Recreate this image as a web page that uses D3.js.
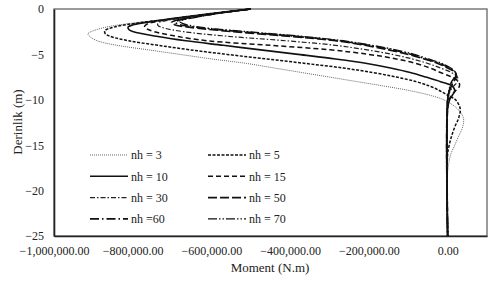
<!DOCTYPE html>
<html>

<head>
    <meta charset="UTF-8">
    <style>
        body { margin: 0; background: #fff; }
        svg { display: block; }
        text { font-family: "Liberation Serif", "Times New Roman", serif; fill: #222; }
    </style>
</head>

<body>
    <svg></svg>
    <script src="https://d3js.org/d3.v7.min.js"></script>

    <script>

        let width = 489, height = 282;

        // moment in thousands of N.m, depth in m
        const xTicks = [-1000000, -800000, -600000, -400000, -200000, 0];
        const yTicks = [0, -5, -10, -15, -20, -25];
        const labels = ["nh = 3", "nh = 5", "nh = 10", "nh = 15", "nh = 30", "nh = 50", "nh =60", "nh = 70"];

        const depth3 = [0, -0.5, -1, -1.5, -2, -2.5, -2.75, -3, -3.5, -4, -4.5, -5, -5.5, -6, -6.5, -7, -7.5, -8, -8.5, -9, -9.5, -10, -11, -12, -13, -14, -15, -16, -17, -18, -25];
        const moment3 = [-500, -590, -680, -790, -868, -906, -914, -910, -890, -840, -760, -680, -600, -510, -440, -370, -300, -230, -160, -95, -45, -10, 25, 40, 38, 28, 18, 8, 3, 0, 0];

        const depth5 = [0, -0.5, -1, -1.5, -2, -2.4, -2.7, -3, -3.5, -4, -4.5, -5, -5.5, -6, -6.5, -7, -7.5, -8, -8.5, -9, -9.5, -10, -11, -12, -13, -14, -15, -16, -25];
        const moment5 = [-500, -590, -680, -780, -848, -871, -870, -858, -810, -735, -654, -560, -460, -360, -265, -190, -130, -80, -45, -20, 0, 20, 32, 28, 18, 10, 4, 0, 0];

        const depth10 = [0, -0.5, -1, -1.5, -1.75, -2, -2.25, -2.5, -3, -3.5, -4, -4.5, -5, -5.5, -6, -6.5, -7, -7.5, -8, -8.5, -9, -9.5, -10, -11, -25];
        const moment10 = [-500, -600, -690, -770, -800, -812, -810, -798, -740, -665, -570, -475, -380, -285, -205, -145, -95, -55, -18, 12, 18, 12, 5, 0, 0];

        const depth15 = [0, -0.5, -1, -1.5, -1.7, -1.95, -2.2, -2.5, -3, -3.5, -4, -4.5, -5, -5.5, -6, -6.5, -7, -7.5, -8, -8.5, -9, -9.5, -10, -11, -25];
        const moment15 = [-500, -600, -688, -752, -765, -770, -764, -745, -690, -610, -450, -298, -200, -130, -80, -45, -18, 10, 28, 30, 20, 10, 3, 0, 0];

        const depth30 = [0, -0.5, -1, -1.3, -1.55, -1.8, -2.1, -2.5, -3, -3.5, -4, -4.5, -5, -5.5, -6, -6.5, -7, -7.5, -8, -8.5, -9, -10, -25];
        const moment30 = [-500, -598, -676, -718, -736, -736, -720, -670, -560, -410, -285, -205, -140, -90, -50, -18, 10, 25, 25, 15, 7, 0, 0];

        const depth50 = [0, -0.5, -1, -1.25, -1.5, -1.75, -2, -2.5, -3, -3.5, -4, -4.5, -5, -5.5, -6, -6.5, -7, -7.5, -8, -9, -10, -25];
        const moment50 = [-500, -590, -660, -690, -702, -692, -658, -545, -405, -285, -210, -150, -100, -60, -25, 0, 20, 22, 15, 5, 0, 0];

        const depth60 = [0, -0.5, -1, -1.25, -1.45, -1.7, -2, -2.5, -3, -3.5, -4, -4.5, -5, -5.5, -6, -6.5, -7, -7.5, -8, -9, -10, -25];
        const moment60 = [-500, -588, -655, -683, -692, -682, -642, -525, -388, -275, -200, -140, -92, -55, -20, 5, 20, 20, 12, 4, 0, 0];

        const depth70 = [0, -0.5, -1, -1.2, -1.4, -1.65, -2, -2.5, -3, -3.5, -4, -4.5, -5, -5.5, -6, -6.5, -7, -7.5, -8, -9, -10, -25];
        const moment70 = [-500, -586, -650, -672, -680, -670, -630, -510, -375, -265, -192, -132, -85, -50, -15, 8, 20, 18, 10, 3, 0, 0];

        const depths = [depth3, depth5, depth10, depth15, depth30, depth50, depth60, depth70];
        const moments = [moment3, moment5, moment10, moment15, moment30, moment50, moment60, moment70];

        const dashes = ["1,1", "3,1.5", null, "5,3", "5,2,1.5,2", "9,3", "9,3,1.5,3", "9,2,1.5,2,1.5,2"];
        const widths = [1, 1.5, 1.6, 1.5, 1.2, 1.6, 1.6, 1.4];
        const colors = ["#666", "#111", "#111", "#111", "#222", "#111", "#111", "#111"];

        let margin = { left: 54, right: 2, top: 9, bottom: 46 };

        let svg = d3.select("svg")
            .attr("width", width)
            .attr("height", height);

        let x = d3.scaleLinear()
            .domain([-1000000, 100000])
            .range([margin.left, width - margin.right]);

        let y = d3.scaleLinear()
            .domain([0, -25])
            .range([margin.top, height - margin.bottom]);

        // frame
        svg.append("rect")
            .attr("x", x.range()[0])
            .attr("y", y.range()[0])
            .attr("width", x.range()[1] - x.range()[0])
            .attr("height", y.range()[1] - y.range()[0])
            .attr("fill", "none")
            .attr("stroke", "#666")
            .attr("stroke-width", 1.3);

        // axes
        let xAxis = d3.axisBottom(x)
            .tickValues(xTicks)
            .tickSize(0)
            .tickPadding(10)
            .tickFormat(d3.format(",.2f"));

        let yAxis = d3.axisLeft(y)
            .tickValues(yTicks)
            .tickSize(0)
            .tickPadding(10)
            .tickFormat(d3.format("d"));

        let gx = svg.append("g")
            .attr("transform", "translate(0," + y(-25) + ")")
            .call(xAxis);
        gx.select(".domain").attr("stroke", "#222").attr("stroke-width", 1.6);
        gx.selectAll("text").style("font-size", "12px").style("font-family", "Liberation Serif");

        let gy = svg.append("g")
            .attr("transform", "translate(" + x(-1000000) + ",0)")
            .call(yAxis);
        gy.select(".domain").attr("stroke", "#222").attr("stroke-width", 1.6);
        gy.selectAll("text").style("font-size", "12px").style("font-family", "Liberation Serif");

        // curves
        let line = d3.line()
            .x(d => x(d.m * 1000))
            .y(d => y(d.d))
            .curve(d3.curveCatmullRom.alpha(0.5));

        let series = labels.map((name, i) => ({
            name: name,
            pts: depths[i].map((dd, k) => ({ d: dd, m: moments[i][k] }))
        }));

        svg.append("g")
            .selectAll("path")
            .data(series)
            .enter()
            .append("path")
            .attr("d", d => line(d.pts))
            .attr("fill", "none")
            .attr("stroke", (d, i) => colors[i])
            .attr("stroke-width", (d, i) => widths[i])
            .attr("stroke-dasharray", (d, i) => dashes[i]);

        // legend
        let legend = svg.append("g");
        series.forEach((s, i) => {
            let col = i % 2, row = Math.floor(i / 2);
            let lx = col == 0 ? 90 : 208;
            let ly = 155 + row * 21.3;
            legend.append("line")
                .attr("x1", lx).attr("x2", lx + 38)
                .attr("y1", ly).attr("y2", ly)
                .attr("stroke", colors[i])
                .attr("stroke-width", widths[i])
                .attr("stroke-dasharray", dashes[i]);
            legend.append("text")
                .attr("x", lx + 41)
                .attr("y", ly)
                .attr("dy", "0.35em")
                .style("font-size", "12px")
                .text(s.name);
        });

        // axis titles
        svg.append("text")
            .attr("x", 270)
            .attr("y", 272)
            .attr("text-anchor", "middle")
            .style("font-size", "13px")
            .text("Moment (N.m)");

        svg.append("text")
            .attr("transform", "translate(17,122) rotate(-90)")
            .attr("text-anchor", "middle")
            .attr("dy", "0.35em")
            .style("font-size", "13px")
            .text("Derinlik (m)");

    </script>

</body>

</html>
